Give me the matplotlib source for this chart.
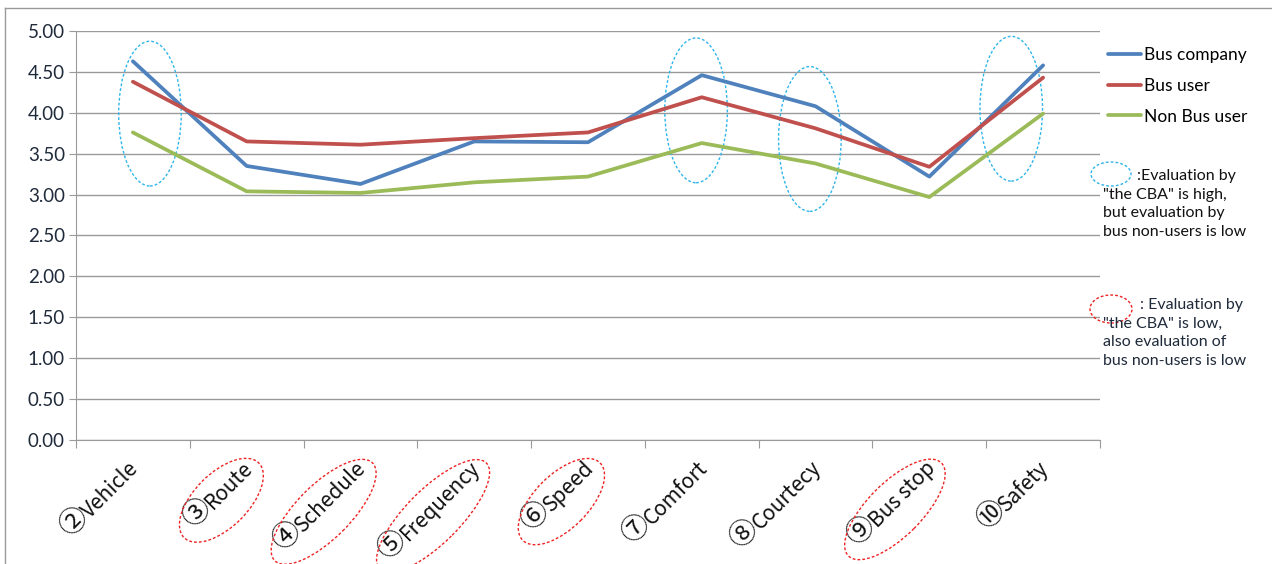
import numpy as np
import matplotlib
matplotlib.use('Agg')
from matplotlib import pyplot as plt
from matplotlib.patches import Ellipse
from matplotlib.lines import Line2D
from matplotlib.transforms import IdentityTransform
from matplotlib.font_manager import FontProperties

plt.rcParams['font.family'] = ['Lato', 'DejaVu Sans', 'Noto Sans CJK JP']

numbers = ['②', '③', '④', '⑤', '⑥', '⑦', '⑧', '⑨', '⑩']
items = ['Vehicle', 'Route', 'Schedule', 'Frequency', 'Speed',
         'Comfort', 'Courtecy', 'Bus stop', 'Safety']
bus_company = [4.63, 3.35, 3.13, 3.65, 3.64, 4.46, 4.08, 3.22, 4.58]
bus_user = [4.38, 3.65, 3.61, 3.69, 3.76, 4.19, 3.81, 3.34, 4.43]
non_bus_user = [3.76, 3.04, 3.02, 3.15, 3.22, 3.63, 3.38, 2.97, 3.99]
y_ticks = [0, 0.5, 1, 1.5, 2, 2.5, 3, 3.5, 4, 4.5, 5]

# highlighted spots (category index, centre value) - blue = high CBA, low non-users
high_spots = [(0.15, 3.99), (4.95, 4.03), (5.95, 3.68), (7.72, 4.05)]
# labels circled in red (CBA low)
low_labels = [1, 2, 3, 4, 7]

W, H = 1272, 564
fig = plt.figure(figsize=(W / 100, H / 100), dpi=100)
ax = fig.add_axes([76 / W, 1 - 440 / H, 1024 / W, 409 / H])

x = np.arange(len(items))
ax.plot(x, bus_company, c='#4F81BD', lw=2.7, label='Bus company', solid_capstyle='round')
ax.plot(x, bus_user, c='#C0504D', lw=2.7, label='Bus user', solid_capstyle='round')
ax.plot(x, non_bus_user, c='#9BBB59', lw=2.7, label='Non Bus user', solid_capstyle='round')

ax.set_xlim(-0.5, len(items) - 0.5)
ax.set_ylim(0, 5)
ax.set_yticks(y_ticks)
ax.set_yticklabels(['%.2f' % v for v in y_ticks], fontsize=13.5, color='#1f2a3a')
ax.yaxis.grid(True, color='#9a9a9a', lw=1)
ax.set_axisbelow(True)
for s in ['top', 'right']:
    ax.spines[s].set_visible(False)
for s in ['left', 'bottom']:
    ax.spines[s].set_color('#9a9a9a')
ax.tick_params(axis='y', length=5, color='#9a9a9a', pad=3)

ax.set_xticks(np.arange(-0.5, len(items)))
ax.set_xticklabels([])
ax.tick_params(axis='x', length=6, color='#9a9a9a')

for cx, cy in high_spots:
    ax.add_patch(Ellipse((cx, cy), 0.55, 1.77, fill=False, ec='#2FB5EA',
                         ls=(0, (2, 1.5)), lw=1.0, clip_on=False))

# category labels: word right-aligned under the category, big circled number in front
word_fp = FontProperties(family='Noto Sans CJK JP', size=15)
num_fp = FontProperties(family='Noto Sans CJK JP', size=20)
fig.canvas.draw()
r = fig.canvas.get_renderer()
c45 = np.cos(np.radians(45))
end_dx, end_dy = 7, -29
label_ext = []
for i, (num, word) in enumerate(zip(numbers, items)):
    ax.annotate(word, xy=(i, 0), xycoords=('data', 'axes fraction'), xytext=(end_dx, end_dy),
                textcoords='offset pixels', rotation=45, rotation_mode='anchor',
                ha='right', va='baseline', fontproperties=word_fp, color='#111111',
                annotation_clip=False)
    w = r.get_text_width_height_descent(word, word_fp, ismath=False)[0]
    nw = r.get_text_width_height_descent(num, num_fp, ismath=False)[0]
    ax.annotate(num, xy=(i, 0), xycoords=('data', 'axes fraction'),
                xytext=(end_dx - w * c45 - 1, end_dy - w * c45 + 1),
                textcoords='offset pixels', rotation=45, rotation_mode='anchor',
                ha='right', va='baseline', fontproperties=num_fp, color='#111111',
                annotation_clip=False)
    label_ext.append(w + nw)

# red ellipses around the labels
for i in low_labels:
    ex, ey = ax.transData.transform((i, 0))
    ey = ax.transAxes.transform((0, 0))[1]
    L = label_ext[i]
    cx = ex + end_dx - L / 2 * c45 - 2
    cy = ey + end_dy - L / 2 * c45 - 1
    fig.add_artist(Ellipse((cx, cy), L + 20, 54, angle=45, fill=False, ec='#EE2222',
                           ls=(0, (2, 1.5)), lw=1.0, transform=IdentityTransform()))

ax.legend(loc='upper left', bbox_to_anchor=(1108 / W, 1 - 47 / H), bbox_transform=fig.transFigure,
          frameon=False, fontsize=12.5, handlelength=1.9, handletextpad=0.2, labelspacing=0.85,
          borderpad=0, borderaxespad=0)

# key for the two kinds of circles
fig.add_artist(Ellipse((1111, H - 174), 40, 24, fill=False, ec='#2FB5EA', ls=(0, (2, 1.5)),
                       lw=1.0, transform=IdentityTransform()))
fig.text(1137 / W, 1 - 176 / H, ':Evaluation by', fontsize=11.5, va='center', color='#111111')
fig.text(1103 / W, 1 - 188 / H, '"the CBA" is high,\nbut evaluation by\nbus non-users is low',
         fontsize=11.5, va='top', linespacing=1.4, color='#111111')

fig.add_artist(Ellipse((1111, H - 309), 42, 28, fill=False, ec='#EE2222', ls=(0, (2, 1.5)),
                       lw=1.0, transform=IdentityTransform()))
fig.text(1140 / W, 1 - 305 / H, ': Evaluation by', fontsize=11.5, va='center', color='#1f2a3a')
fig.text(1103 / W, 1 - 317 / H, '"the CBA" is low,\nalso evaluation of\nbus non-users is low',
         fontsize=11.5, va='top', linespacing=1.4, color='#1f2a3a')

# outer chart frame
fig.add_artist(Line2D([5 / W, 1], [1 - 8 / H, 1 - 8 / H], color='#9a9a9a', lw=1))
fig.add_artist(Line2D([5 / W, 5 / W], [0, 1 - 8 / H], color='#9a9a9a', lw=1))

plt.savefig('out.png', dpi=100)
plt.close()
